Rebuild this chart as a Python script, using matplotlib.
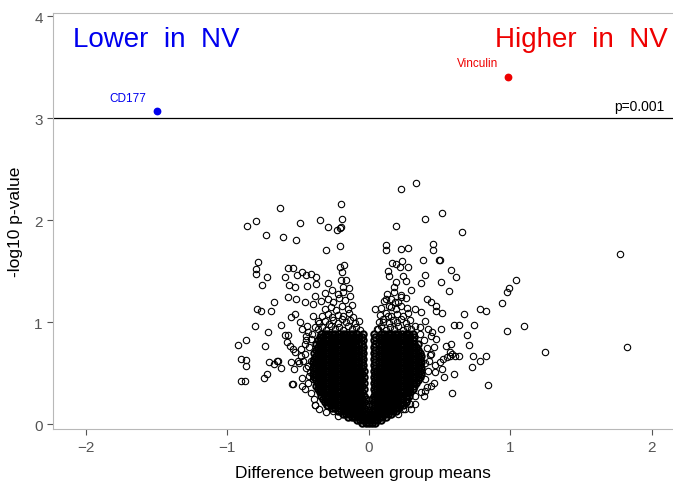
import matplotlib
matplotlib.use('Agg')
import matplotlib.pyplot as plt

plt.rcParams['font.family'] = ['Liberation Sans', 'DejaVu Sans']

# Dense core of the volcano, read row by row (y level, x positions)
core_rows_y = [0.01, 0.04, 0.07, 0.10, 0.13, 0.16, 0.19, 0.22, 0.25, 0.28,
               0.31, 0.34, 0.37, 0.40, 0.43, 0.46, 0.49, 0.52, 0.55, 0.58,
               0.61, 0.64, 0.67, 0.70, 0.73, 0.76, 0.79, 0.82, 0.85, 0.88]
core_rows_x = [
    [-0.045, -0.02, 0.0, 0.02, 0.045],
    [-0.085, -0.06, -0.035, -0.01, 0.01, 0.035, 0.06, 0.085],
    [-0.145, -0.12, -0.095, -0.07, -0.045, -0.02, 0.0, 0.02, 0.045, 0.07, 0.095, 0.12],
    [-0.185, -0.16, -0.135, -0.11, -0.085, -0.06, -0.035, -0.01, 0.01, 0.035, 0.06, 0.085, 0.11, 0.135, 0.16],
    [-0.22, -0.195, -0.17, -0.145, -0.12, -0.095, -0.07, -0.045, -0.02, 0.02, 0.045, 0.07, 0.095, 0.12, 0.145, 0.17, 0.195],
    [-0.26, -0.235, -0.21, -0.185, -0.16, -0.135, -0.11, -0.085, -0.06, -0.035, 0.035, 0.06, 0.085, 0.11, 0.135, 0.16, 0.185, 0.21],
    [-0.295, -0.27, -0.245, -0.22, -0.195, -0.17, -0.145, -0.12, -0.095, -0.07, -0.045, -0.02, 0.02, 0.045, 0.07, 0.095, 0.12, 0.145, 0.17, 0.195, 0.22, 0.245],
    [-0.31, -0.285, -0.26, -0.235, -0.21, -0.185, -0.16, -0.135, -0.11, -0.085, -0.06, -0.035, 0.035, 0.06, 0.085, 0.11, 0.135, 0.16, 0.185, 0.21, 0.235, 0.26],
    [-0.32, -0.295, -0.27, -0.245, -0.22, -0.195, -0.17, -0.145, -0.12, -0.095, -0.07, -0.045, -0.02, 0.02, 0.045, 0.07, 0.095, 0.12, 0.145, 0.17, 0.195, 0.22, 0.245, 0.27],
    [-0.335, -0.31, -0.285, -0.26, -0.235, -0.21, -0.185, -0.16, -0.135, -0.11, -0.085, -0.06, -0.035, 0.035, 0.06, 0.085, 0.11, 0.135, 0.16, 0.185, 0.21, 0.235, 0.26, 0.285],
    [-0.345, -0.32, -0.295, -0.27, -0.245, -0.22, -0.195, -0.17, -0.145, -0.12, -0.095, -0.07, -0.045, 0.045, 0.07, 0.095, 0.12, 0.145, 0.17, 0.195, 0.22, 0.245, 0.27, 0.295],
    [-0.36, -0.335, -0.31, -0.285, -0.26, -0.235, -0.21, -0.185, -0.16, -0.135, -0.11, -0.085, -0.06, -0.035, 0.035, 0.06, 0.085, 0.11, 0.135, 0.16, 0.185, 0.21, 0.235, 0.26, 0.285, 0.31],
    [-0.37, -0.345, -0.32, -0.295, -0.27, -0.245, -0.22, -0.195, -0.17, -0.145, -0.12, -0.095, -0.07, -0.045, 0.045, 0.07, 0.095, 0.12, 0.145, 0.17, 0.195, 0.22, 0.245, 0.27, 0.295, 0.32],
    [-0.36, -0.335, -0.31, -0.285, -0.26, -0.235, -0.21, -0.185, -0.16, -0.135, -0.11, -0.085, -0.06, -0.035, 0.035, 0.06, 0.085, 0.11, 0.135, 0.16, 0.185, 0.21, 0.235, 0.26, 0.285, 0.31, 0.335],
    [-0.37, -0.345, -0.32, -0.295, -0.27, -0.245, -0.22, -0.195, -0.17, -0.145, -0.12, -0.095, -0.07, -0.045, 0.045, 0.07, 0.095, 0.12, 0.145, 0.17, 0.195, 0.22, 0.245, 0.27, 0.295, 0.32, 0.345],
    [-0.385, -0.36, -0.335, -0.31, -0.285, -0.26, -0.235, -0.21, -0.185, -0.16, -0.135, -0.11, -0.085, -0.06, -0.035, 0.035, 0.06, 0.085, 0.11, 0.135, 0.16, 0.185, 0.21, 0.235, 0.26, 0.285, 0.31, 0.335, 0.36],
    [-0.395, -0.37, -0.345, -0.32, -0.295, -0.27, -0.245, -0.22, -0.195, -0.17, -0.145, -0.12, -0.095, -0.07, -0.045, 0.045, 0.07, 0.095, 0.12, 0.145, 0.17, 0.195, 0.22, 0.245, 0.27, 0.295, 0.32, 0.345, 0.37],
    [-0.385, -0.36, -0.335, -0.31, -0.285, -0.26, -0.235, -0.21, -0.185, -0.16, -0.135, -0.11, -0.085, -0.06, -0.035, 0.035, 0.06, 0.085, 0.11, 0.135, 0.16, 0.185, 0.21, 0.235, 0.26, 0.285, 0.31, 0.335, 0.36],
    [-0.395, -0.37, -0.345, -0.32, -0.295, -0.27, -0.245, -0.22, -0.195, -0.17, -0.145, -0.12, -0.095, -0.07, -0.045, 0.045, 0.07, 0.095, 0.12, 0.145, 0.17, 0.195, 0.22, 0.245, 0.27, 0.295, 0.32, 0.345, 0.37],
    [-0.385, -0.36, -0.335, -0.31, -0.285, -0.26, -0.235, -0.21, -0.185, -0.16, -0.135, -0.11, -0.085, -0.04, 0.04, 0.085, 0.11, 0.135, 0.16, 0.185, 0.21, 0.235, 0.26, 0.285, 0.31, 0.335, 0.36],
    [-0.395, -0.37, -0.345, -0.32, -0.295, -0.27, -0.245, -0.22, -0.195, -0.17, -0.145, -0.12, -0.095, -0.07, -0.045, 0.045, 0.07, 0.095, 0.12, 0.145, 0.17, 0.195, 0.22, 0.245, 0.27, 0.295, 0.32, 0.345, 0.37],
    [-0.385, -0.36, -0.335, -0.31, -0.285, -0.26, -0.235, -0.21, -0.185, -0.16, -0.135, -0.11, -0.085, -0.04, 0.04, 0.085, 0.11, 0.135, 0.16, 0.185, 0.21, 0.235, 0.26, 0.285, 0.31, 0.335, 0.36],
    [-0.37, -0.345, -0.32, -0.295, -0.27, -0.245, -0.22, -0.195, -0.17, -0.145, -0.12, -0.095, -0.07, -0.045, 0.045, 0.07, 0.095, 0.12, 0.145, 0.17, 0.195, 0.22, 0.245, 0.27, 0.295, 0.32, 0.345, 0.37],
    [-0.385, -0.36, -0.335, -0.31, -0.285, -0.26, -0.235, -0.21, -0.185, -0.16, -0.135, -0.11, -0.085, -0.04, 0.04, 0.085, 0.11, 0.135, 0.16, 0.185, 0.21, 0.235, 0.26, 0.285, 0.31, 0.335, 0.36],
    [-0.37, -0.345, -0.32, -0.295, -0.27, -0.245, -0.22, -0.195, -0.17, -0.145, -0.12, -0.095, -0.07, -0.045, 0.045, 0.07, 0.095, 0.12, 0.145, 0.17, 0.195, 0.22, 0.245, 0.27, 0.295, 0.32, 0.345],
    [-0.36, -0.335, -0.31, -0.285, -0.26, -0.235, -0.21, -0.185, -0.16, -0.135, -0.11, -0.085, -0.04, 0.04, 0.085, 0.11, 0.135, 0.16, 0.185, 0.21, 0.235, 0.26, 0.285, 0.31, 0.335],
    [-0.37, -0.345, -0.32, -0.295, -0.27, -0.245, -0.22, -0.195, -0.17, -0.145, -0.12, -0.095, -0.07, -0.045, 0.045, 0.07, 0.095, 0.12, 0.145, 0.17, 0.195, 0.22, 0.245, 0.27, 0.295, 0.32, 0.345],
    [-0.36, -0.335, -0.31, -0.285, -0.26, -0.235, -0.21, -0.185, -0.16, -0.135, -0.11, -0.085, -0.04, 0.04, 0.085, 0.11, 0.135, 0.16, 0.185, 0.21, 0.235, 0.26, 0.285, 0.31],
    [-0.345, -0.32, -0.295, -0.27, -0.245, -0.22, -0.195, -0.17, -0.145, -0.12, -0.095, -0.07, -0.045, 0.045, 0.07, 0.095, 0.12, 0.145, 0.17, 0.195, 0.22, 0.245, 0.27, 0.295, 0.32],
    [-0.335, -0.31, -0.285, -0.26, -0.235, -0.21, -0.185, -0.16, -0.135, -0.11, -0.085, -0.04, 0.04, 0.085, 0.11, 0.135, 0.16, 0.185, 0.21, 0.235, 0.26, 0.285, 0.31],
]

# Scattered proteins outside the dense core
other_x = [
    # left, upper
    -0.193, -0.624, -0.862, -0.794, -0.486, -0.346, -0.189, -0.288, -0.226, -0.205,
    -0.193, -0.723, -0.606, -0.511, -0.304, -0.205, -0.782, -0.799, -0.794, -0.716,
    -0.751, -0.570, -0.535, -0.594, -0.469, -0.504, -0.440, -0.408, -0.375, -0.565,
    -0.523, -0.438, -0.372, -0.200, -0.175, -0.189, -0.288, -0.198, -0.158, -0.182,
    # left, lower
    -0.789, -0.763, -0.693, -0.666, -0.806, -0.714, -0.617, -0.864, -0.926, -0.733,
    -0.902, -0.864, -0.867, -0.707, -0.671, -0.648, -0.638, -0.622, -0.900, -0.876,
    -0.742, -0.716, -0.380, -0.544, -0.594, -0.570, -0.580, -0.556, -0.535, -0.518,
    -0.546, -0.500, -0.528, -0.535, -0.471, -0.452, -0.377, -0.476, -0.452, -0.440,
    -0.471, -0.488, -0.546, -0.523, -0.570, -0.511, -0.452, -0.394, -0.382, -0.394,
    -0.358, -0.382, -0.429, -0.410, -0.433, -0.476, -0.464, -0.429, -0.417, -0.394,
    -0.358, -0.334, -0.311, -0.288, -0.252, -0.217,
    # left edge of the core
    -0.41, -0.43, -0.42, -0.44, -0.41, -0.45, -0.42, -0.44, -0.40, -0.47,
    -0.49, -0.39, -0.35, -0.30,
    # left core, above the dense part
    -0.36, -0.33, -0.30, -0.27, -0.24, -0.21, -0.18, -0.15, -0.12, -0.09, -0.06,
    -0.35, -0.31, -0.28, -0.25, -0.22, -0.19, -0.16, -0.13, -0.10, -0.07,
    -0.33, -0.29, -0.26, -0.22, -0.18, -0.14, -0.11,
    -0.31, -0.27, -0.23, -0.19, -0.15, -0.12,
    -0.34, -0.29, -0.25, -0.21, -0.17, -0.13,
    -0.31, -0.26, -0.22, -0.18, -0.14,
    # right, upper
    0.332, 0.226, 0.521, 0.394, 0.193, 0.657, 0.120, 0.120, 0.226, 0.274,
    0.452, 0.457, 0.165, 0.196, 0.238, 0.219, 0.274, 0.384, 0.497, 0.504,
    0.134, 0.146, 0.242, 0.266, 0.394, 0.372, 0.582, 0.615, 0.514, 0.570,
    0.196, 0.179, 1.044, 0.992, 0.975, 0.942, 0.784, 0.827, 0.676, 1.779,
    # right, lower
    1.095, 1.242, 1.825, 0.603, 0.636, 0.744, 0.693, 0.975, 0.707, 0.740,
    0.784, 0.827, 0.733, 0.599, 0.843, 0.587, 0.641, 0.613, 0.577,
    0.509, 0.518, 0.478, 0.478, 0.438, 0.415, 0.549, 0.584, 0.556, 0.525,
    0.589, 0.572, 0.502, 0.518, 0.466, 0.532, 0.438, 0.396, 0.372, 0.447,
    0.478, 0.461, 0.443, 0.424, 0.325, 0.290, 0.254, 0.207, 0.16, 0.24,
    0.066, 0.101, 0.136, 0.160, 0.042, 0.184, 0.125, 0.231, 0.325, 0.372,
    0.396, 0.360, 0.419,
    # right edge of the core
    0.39, 0.41, 0.40, 0.42, 0.40, 0.43, 0.41, 0.39, 0.44, 0.47,
    0.46, 0.33, 0.30, 0.36,
    # right core, above the dense part
    0.06, 0.09, 0.12, 0.15, 0.18, 0.21, 0.24, 0.27, 0.30, 0.33,
    0.07, 0.10, 0.14, 0.17, 0.20, 0.23, 0.26, 0.29,
    0.08, 0.12, 0.16, 0.20, 0.24, 0.28,
    0.09, 0.14, 0.19, 0.23, 0.27,
    0.11, 0.16, 0.21, 0.26,
    0.13, 0.18, 0.23, 0.30,
]
other_y = [
    2.160, 2.118, 1.941, 1.990, 1.968, 2.000, 2.007, 1.934, 1.899, 1.918,
    1.928, 1.856, 1.833, 1.801, 1.703, 1.748, 1.591, 1.520, 1.468, 1.441,
    1.366, 1.532, 1.526, 1.441, 1.493, 1.461, 1.461, 1.474, 1.444, 1.366,
    1.340, 1.356, 1.373, 1.542, 1.562, 1.493, 1.382, 1.412, 1.409, 1.340,
    1.127, 1.108, 1.108, 1.193, 0.958, 0.899, 0.971, 0.826, 0.775, 0.765,
    0.637, 0.627, 0.572, 0.611, 0.585, 0.618, 0.618, 0.546, 0.419, 0.419,
    0.448, 0.490, 0.189, 0.389, 0.875, 0.875, 0.801, 0.768, 0.735, 0.703,
    0.605, 0.621, 0.539, 0.392, 0.375, 0.343, 0.186, 0.735, 0.784, 0.866,
    0.931, 0.997, 1.046, 1.078, 1.242, 1.225, 1.193, 1.176, 1.258, 1.062,
    1.013, 0.948, 0.899, 0.833, 0.964, 0.670, 0.621, 0.572, 0.507, 0.441,
    0.376, 0.327, 0.245, 0.180, 0.131, 0.082,
    0.30, 0.40, 0.47, 0.55, 0.62, 0.69, 0.76, 0.82, 0.88, 0.45,
    0.60, 0.25, 0.15, 0.12,
    0.93, 0.95, 0.92, 0.96, 0.93, 0.95, 0.92, 0.96, 0.93, 0.95, 0.92,
    0.99, 1.01, 0.98, 1.02, 0.99, 1.03, 1.00, 1.02, 0.99, 1.01,
    1.06, 1.08, 1.05, 1.07, 1.06, 1.09, 1.05,
    1.13, 1.15, 1.12, 1.16, 1.13, 1.17,
    1.21, 1.23, 1.20, 1.24, 1.22, 1.26,
    1.29, 1.31, 1.28, 1.30, 1.33,
    2.366, 2.307, 2.069, 2.010, 1.941, 1.879, 1.755, 1.709, 1.716, 1.725,
    1.762, 1.703, 1.581, 1.566, 1.595, 1.539, 1.542, 1.605, 1.605, 1.605,
    1.503, 1.454, 1.448, 1.405, 1.464, 1.385, 1.510, 1.441, 1.392, 1.304,
    1.389, 1.340, 1.415, 1.336, 1.294, 1.189, 1.130, 1.105, 1.081, 1.667,
    0.964, 0.706, 0.755, 0.974, 0.974, 0.974, 0.875, 0.912, 0.775, 0.664,
    0.615, 0.664, 0.556, 0.487, 0.382, 0.304, 0.670, 0.670, 0.664,
    0.931, 1.088, 1.160, 1.111, 1.193, 1.225, 0.768, 0.784, 0.654, 0.637,
    0.686, 0.703, 0.605, 0.539, 0.507, 0.458, 0.376, 0.327, 0.311, 0.899,
    0.833, 0.752, 0.686, 0.621, 0.278, 0.196, 0.147, 0.098, 0.10, 0.15,
    0.931, 0.997, 1.062, 1.144, 1.127, 1.193, 1.225, 1.242, 1.127, 1.095,
    1.013, 0.948, 0.931,
    0.28, 0.36, 0.44, 0.52, 0.60, 0.68, 0.75, 0.82, 0.86, 0.58,
    0.40, 0.20, 0.15, 0.88,
    0.93, 0.96, 0.92, 0.95, 0.93, 0.96, 0.92, 0.95, 0.93, 0.96,
    1.00, 1.03, 0.99, 1.02, 1.00, 1.03, 0.99, 1.02,
    1.07, 1.09, 1.06, 1.08, 1.06, 1.09,
    1.14, 1.16, 1.13, 1.16, 1.14,
    1.21, 1.23, 1.20, 1.24,
    1.28, 1.30, 1.27, 1.31,
]

# Significant hits
hit_labels = ['CD177', 'Vinculin']
hit_x = [-1.498, 0.982]
hit_y = [3.07, 3.40]
hit_colors = ['#0000ee', '#ee0000']

p_cut = 3.0  # -log10(0.001)

core_x, core_y = [], []
for yv, row in zip(core_rows_y, core_rows_x):
    core_x += row
    core_y += [yv] * len(row)

fig = plt.figure(figsize=(6.73, 4.85), dpi=100)
ax = fig.add_axes([0.079, 0.113, 0.921, 0.858])

ring = dict(linestyle='none', marker='o', markersize=4.6, markerfacecolor='none',
            markeredgecolor='black', markeredgewidth=0.8)
# core rings drawn a touch heavier so the overlapping pile reads as solid
ax.plot(core_x, core_y, **dict(ring, markeredgewidth=1.5))
ax.plot(other_x, other_y, **ring)

for lab, x, y, c in zip(hit_labels, hit_x, hit_y, hit_colors):
    ax.plot(x, y, 'o', color=c, markersize=4.6)
ax.text(-1.70, 3.17, 'CD177', color=hit_colors[0], fontsize=8.5, ha='center')
ax.text(0.77, 3.51, 'Vinculin', color=hit_colors[1], fontsize=8.5, ha='center')

ax.axhline(p_cut, color='black', linewidth=0.9)
ax.text(2.09, 3.05, 'p=0.001', fontsize=10, ha='right', va='bottom')

ax.text(-2.09, 3.71, 'Lower  in  NV', color=hit_colors[0], fontsize=20)
ax.text(2.11, 3.71, 'Higher  in  NV', color=hit_colors[1], fontsize=20, ha='right')

ax.set_xlim(-2.23, 2.15)
ax.set_ylim(-0.05, 4.03)
ax.set_xticks([-2, -1, 0, 1, 2])
ax.set_yticks([0, 1, 2, 3, 4])
ax.tick_params(colors='#555555', labelsize=11, length=4, width=0.8)
ax.set_xlabel('Difference between group means', fontsize=12.5, labelpad=8)
ax.set_ylabel('-log10 p-value', fontsize=12.5, labelpad=8)

for side in ['left', 'bottom', 'top']:
    ax.spines[side].set_color('#b8b8b8')
ax.spines['right'].set_visible(False)

plt.savefig('out.png', dpi=100)
